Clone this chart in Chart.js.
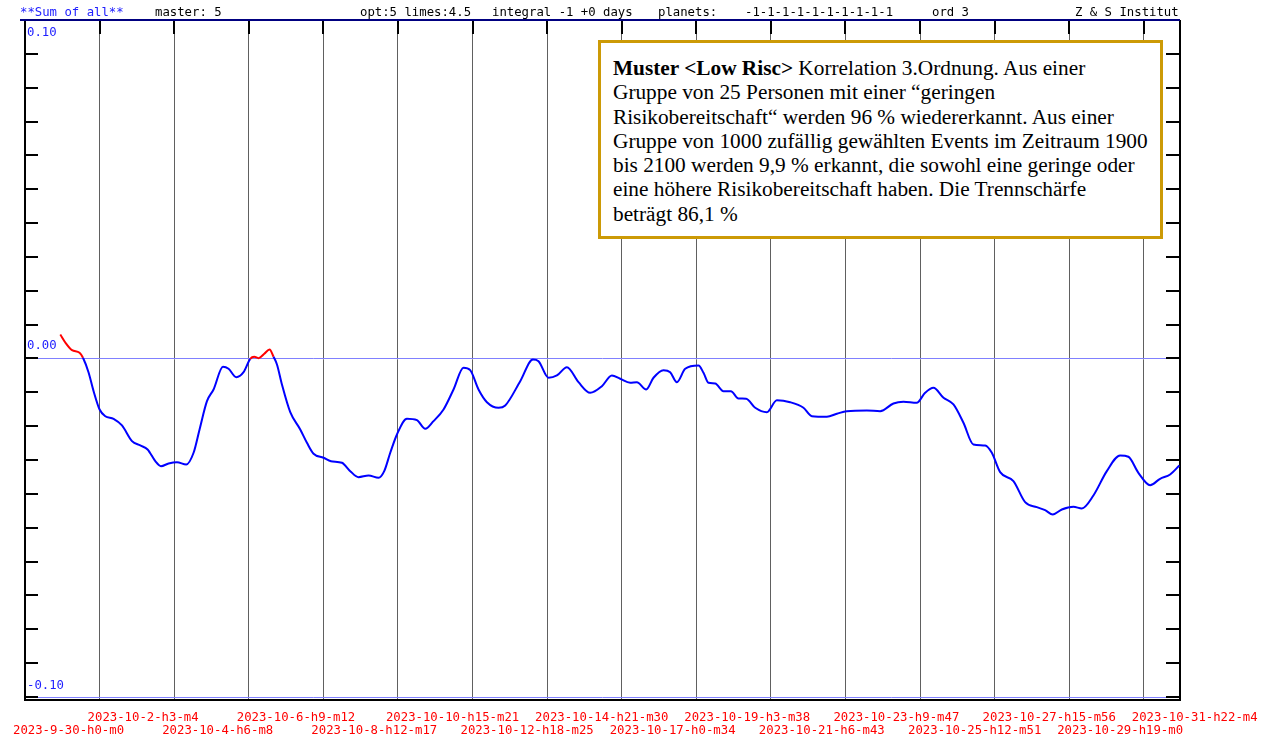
<!DOCTYPE html>
<html lang="de">
<head>
    <meta charset="UTF-8">
    <title>Sum of all</title>
    <script src="https://cdn.jsdelivr.net/npm/chart.js"></script>
    <style>
        body {
            margin: 0;
            background: #fff;
        }
        .wrap {
            position: relative;
            width: 1268px;
            height: 738px;
            overflow: hidden;
        }
        canvas {
            position: absolute;
            left: 0;
            top: 0;
        }
        .head span {
            position: absolute;
            top: 5px;
            font: 12.3px 'DejaVu Sans Mono', monospace;
            line-height: 14px;
            color: #000;
            white-space: pre;
        }
        .head .blue {
            color: #2020ff;
        }
        .note {
            position: absolute;
            left: 598px;
            top: 40px;
            width: 565px;
            height: 199px;
            box-sizing: border-box;
            border: 3px solid #cc9a06;
            background: #fff;
            padding: 13px 0 0 12px;
            font: 21.3px 'Liberation Serif', 'Times New Roman', serif;
            line-height: 24.3px;
            white-space: nowrap;
            color: #000;
        }
    </style>
</head>
<body>

<div class="wrap">
    <canvas id="sumChart" width="1268" height="738"></canvas>

    <div class="head">
        <span class="blue" style="left:20px">**Sum of all**</span>
        <span style="left:155px">master: 5</span>
        <span style="left:360px">opt:5 limes:4.5</span>
        <span style="left:492px">integral -1 +0 days</span>
        <span style="left:658px">planets:</span>
        <span style="left:745px">-1-1-1-1-1-1-1-1-1-1</span>
        <span style="left:932px">ord 3</span>
        <span style="left:1075px">Z &amp; S Institut</span>
    </div>

    <div class="note">
        <b>Muster &lt;Low Risc&gt;</b> Korrelation 3.Ordnung. Aus einer<br>
        Gruppe von 25 Personen mit einer “geringen<br>
        Risikobereitschaft“ werden 96 % wiedererkannt. Aus einer<br>
        Gruppe von 1000 zufällig gewählten Events im Zeitraum 1900<br>
        bis 2100 werden 9,9 % erkannt, die sowohl eine geringe oder<br>
        eine höhere Risikobereitschaft haben. Die Trennschärfe<br>
        beträgt 86,1 %
    </div>
</div>

<script>
    // days since 2023-9-30 h0 m0
    const days = [
        1.007, 1.149, 1.341, 1.557, 1.654, 1.814, 1.957, 2.128, 2.290, 2.527,
        2.767, 3.052, 3.289, 3.497, 3.717, 3.879, 4.096, 4.335, 4.601, 4.809,
        4.980, 5.191, 5.379, 5.648, 5.807, 6.027, 6.235, 6.426, 6.540, 6.663,
        6.826, 6.977, 7.091, 7.188, 7.330, 7.567, 7.852, 8.043, 8.232, 8.517,
        8.728, 9.042, 9.279, 9.515, 9.801, 10.086, 10.248, 10.420, 10.611, 10.896,
        11.181, 11.418, 11.654, 11.940, 12.225, 12.510, 12.701, 12.938, 13.178, 13.509,
        13.700, 14.128, 14.490, 14.650, 14.935, 15.174, 15.460, 15.790, 16.124, 16.458,
        16.743, 16.980, 17.265, 17.456, 17.722, 17.930, 18.215, 18.406, 18.597, 18.834,
        19.213, 19.356, 19.498, 19.690, 19.926, 20.137, 20.354, 20.574, 20.831, 21.164,
        21.450, 21.829, 22.208, 22.448, 22.876, 23.161, 23.446, 24.016, 24.396, 24.775,
        25.061, 25.438, 25.679, 25.916, 26.203, 26.487, 26.772, 27.057, 27.391, 27.582,
        27.819, 28.198, 28.532, 28.865, 29.102, 29.322, 29.579, 29.909, 30.149, 30.480,
        30.862, 31.241, 31.478, 31.763, 32.097, 32.382, 32.668, 32.933
    ];

    const values = [
        0.00709, 0.00473, 0.00245, 0.00168, 0.0002, -0.00414, -0.00966, -0.01507, -0.01705, -0.01781,
        -0.01979, -0.02443, -0.0257, -0.02688, -0.03034, -0.03182, -0.03102, -0.03064, -0.03131, -0.02786,
        -0.02097, -0.01261, -0.00916, -0.00245, -0.00304, -0.00552, -0.00405, -0.0001, 0.0005, 0.0001,
        0.00139, 0.00266, 0.0005, -0.00177, -0.00768, -0.01586, -0.02097, -0.0249, -0.02815, -0.02933,
        -0.03034, -0.03081, -0.03329, -0.03507, -0.03456, -0.03524, -0.03329, -0.02786, -0.02245, -0.01781,
        -0.01823, -0.02077, -0.01852, -0.01507, -0.00916, -0.00275, -0.00346, -0.00916, -0.01291, -0.01456,
        -0.01388, -0.00671, -0.0003, -0.0008, -0.0057, -0.00502, -0.00257, -0.007, -0.01013, -0.00818,
        -0.00502, -0.006, -0.00718, -0.007, -0.00916, -0.0057, -0.00346, -0.00405, -0.007, -0.00304,
        -0.00207, -0.00422, -0.00718, -0.00739, -0.00966, -0.00966, -0.01182, -0.0119, -0.01456, -0.01586,
        -0.01232, -0.01291, -0.01456, -0.01705, -0.01722, -0.01634, -0.01557, -0.01536, -0.01557, -0.01329,
        -0.01279, -0.01309, -0.01013, -0.00866, -0.01161, -0.01359, -0.019, -0.02541, -0.0257, -0.02786,
        -0.03359, -0.03625, -0.04245, -0.04393, -0.04482, -0.04609, -0.04461, -0.04381, -0.04431, -0.04047,
        -0.03329, -0.02866, -0.02904, -0.03377, -0.03743, -0.03554, -0.03427, -0.03161
    ];

    const tickLabels = [
        '2023-9-30-h0-m0', '2023-10-2-h3-m4', '2023-10-4-h6-m8', '2023-10-6-h9-m12',
        '2023-10-8-h12-m17', '2023-10-10-h15-m21', '2023-10-12-h18-m25', '2023-10-14-h21-m30',
        '2023-10-17-h0-m34', '2023-10-19-h3-m38', '2023-10-21-h6-m43', '2023-10-23-h9-m47',
        '2023-10-25-h12-m51', '2023-10-27-h15-m56', '2023-10-29-h19-m0', '2023-10-31-h22-m4'
    ];

    const yLabels = [0.10, 0.00, -0.10];

    // one tick every 2 days 3 h 4 min
    const tickStep = 2 + 3 / 24 + 4 / 1440;
    const tickDays = tickLabels.map((_, i) => i * tickStep);

    const monoFont = "12.3px 'DejaVu Sans Mono', monospace";

    // frame, inner ticks, blue reference lines and the value labels
    const framePlugin = {
        id: 'frame',
        beforeDatasetsDraw(chart) {
            const {ctx, chartArea: a, scales: {x, y}} = chart;
            ctx.save();

            ctx.strokeStyle = '#8080ff';
            ctx.lineWidth = 1;
            [0, -0.10].forEach(v => {
                const py = Math.round(y.getPixelForValue(v)) + 0.5;
                ctx.beginPath();
                ctx.moveTo(a.left, py);
                ctx.lineTo(a.right, py);
                ctx.stroke();
            });

            ctx.fillStyle = '#000';
            ctx.fillRect(a.left - 1, a.top, 2, a.bottom - a.top);
            ctx.fillRect(a.right - 1, a.top, 2, a.bottom - a.top);
            for (let i = -10; i <= 10; i++) {
                const py = Math.round(y.getPixelForValue(i / 100));
                ctx.fillRect(a.left, py - 1, 13, 2);
                ctx.fillRect(a.right - 14, py - 1, 14, 2);
            }
            tickDays.slice(1).forEach(d => {
                const px = Math.round(x.getPixelForValue(d));
                ctx.fillRect(px - 1, a.top, 2, 14);
            });

            ctx.fillStyle = '#000080';
            ctx.fillRect(20, a.top - 1, a.right - 20, 2);

            ctx.font = monoFont;
            ctx.fillStyle = '#2020ff';
            ctx.textBaseline = 'middle';
            ctx.textAlign = 'left';
            yLabels.forEach(v => {
                const py = y.getPixelForValue(v);
                const off = v >= 0.10 ? 13 : (v < 0 ? -11 : -12.5);
                ctx.fillText(v.toFixed(2), 27, py + off);
            });
            ctx.restore();
        }
    };

    const ctx = document.getElementById('sumChart').getContext('2d');

    new Chart(ctx, {
        type: 'line',
        data: {
            datasets: [{
                data: days.map((d, i) => ({x: d, y: values[i]})),
                borderColor: '#0000ff',
                borderWidth: 2,
                pointRadius: 0,
                cubicInterpolationMode: 'monotone',
                segment: {
                    borderColor: c => (c.p0.parsed.y + c.p1.parsed.y) / 2 > 0 ? '#ff0000' : '#0000ff'
                }
            }]
        },
        options: {
            responsive: false,
            animation: false,
            layout: {
                padding: {left: 25, right: 88, top: 20, bottom: 0}
            },
            plugins: {
                legend: {display: false},
                tooltip: {enabled: false}
            },
            scales: {
                x: {
                    type: 'linear',
                    min: 0,
                    max: 32.95,
                    afterBuildTicks: scale => {
                        scale.ticks = tickDays.map(v => ({value: v}));
                    },
                    afterFit: scale => {
                        scale.height = 38;
                        scale.paddingLeft = 0;
                        scale.paddingRight = 0;
                    },
                    ticks: {
                        autoSkip: false,
                        maxRotation: 0,
                        minRotation: 0,
                        align: 'start',
                        labelOffset: -12,
                        padding: 12,
                        color: '#ff0000',
                        font: {family: "'DejaVu Sans Mono', monospace", size: 12.3, lineHeight: 1},
                        callback: (v, i) => i % 2 ? [tickLabels[i], ''] : ['', tickLabels[i]]
                    },
                    grid: {
                        color: '#606060',
                        lineWidth: 1,
                        drawTicks: false
                    },
                    border: {
                        color: '#000',
                        width: 2
                    }
                },
                y: {
                    display: false,
                    min: -0.1009,
                    max: 0.10
                }
            }
        },
        plugins: [framePlugin]
    });
</script>

</body>
</html>
